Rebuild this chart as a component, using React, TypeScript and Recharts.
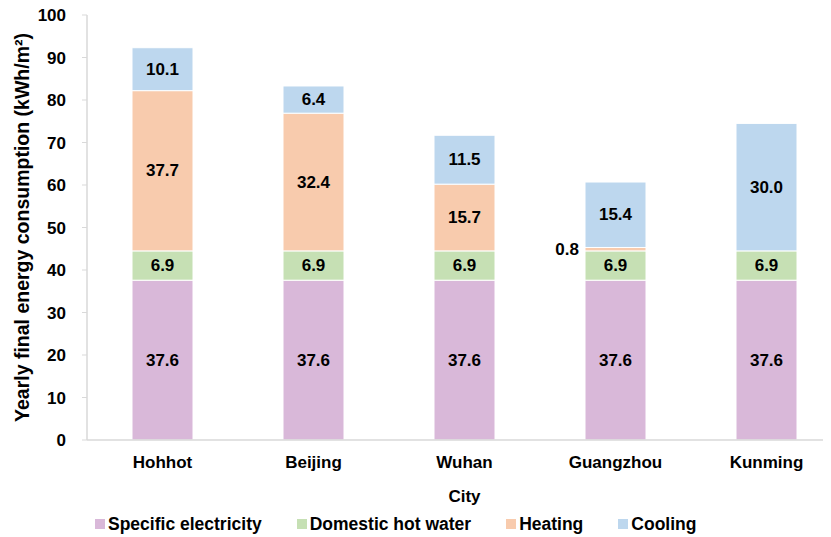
import { BarChart, Bar, XAxis, YAxis, Legend, LabelList } from 'recharts';

const cities = ['Hohhot', 'Beijing', 'Wuhan', 'Guangzhou', 'Kunming'];
const specificElectricity = [37.6, 37.6, 37.6, 37.6, 37.6];
const domesticHotWater = [6.9, 6.9, 6.9, 6.9, 6.9];
const heating = [37.7, 32.4, 15.7, 0.8, 0];
const cooling = [10.1, 6.4, 11.5, 15.4, 30.0];
const yTicks = [0, 10, 20, 30, 40, 50, 60, 70, 80, 90, 100];

const series = [
  { key: 'electricity', name: 'Specific electricity', color: '#D9B8D9' },
  { key: 'hotWater', name: 'Domestic hot water', color: '#C6E0B4' },
  { key: 'heating', name: 'Heating', color: '#F8CBAD' },
  { key: 'cooling', name: 'Cooling', color: '#BDD7EE' },
];

const data = cities.map((city, i) => ({
  city,
  electricity: specificElectricity[i],
  hotWater: domesticHotWater[i],
  heating: heating[i],
  cooling: cooling[i],
}));

const FONT = '"Liberation Sans", Arial, sans-serif';

// value labels: centred in the segment, or to the left when the segment is too thin
const renderValue = (props: any) => {
  const { x, y, width, height, value } = props;
  if (!value) return null;
  const small = height < 14;
  return (
    <text
      x={small ? x - 6 : x + width / 2}
      y={y + height / 2}
      textAnchor={small ? 'end' : 'middle'}
      dominantBaseline="central"
      fontFamily={FONT}
      fontWeight="bold"
      fontSize={17}
      fill="#000"
    >
      {Number(value).toFixed(1)}
    </text>
  );
};

const renderLegend = () => (
  <div
    style={{
      display: 'flex',
      gap: 35,
      fontFamily: FONT,
      fontWeight: 'bold',
      fontSize: 17.5,
      lineHeight: '20px',
      whiteSpace: 'nowrap',
    }}
  >
    {series.map((s) => (
      <div key={s.key} style={{ display: 'flex', alignItems: 'center', gap: 3 }}>
        <span style={{ width: 10, height: 10, background: s.color, display: 'inline-block' }} />
        <span>{s.name}</span>
      </div>
    ))}
  </div>
);

export default function App() {
  return (
    <div
      style={{
        marginLeft: -8,
        marginTop: -8,
        width: 831,
        height: 537,
        overflow: 'hidden',
        position: 'relative',
        background: '#fff',
      }}
    >
      <BarChart
        width={845}
        height={537}
        data={data}
        margin={{ top: 15, right: 3, left: 0, bottom: 0 }}
        barSize={61}
      >
        <XAxis
          dataKey="city"
          height={77}
          axisLine={{ stroke: '#D9D9D9', strokeWidth: 1.5 }}
          tickLine={false}
          tick={{ fontFamily: FONT, fontWeight: 'bold', fontSize: 17, fill: '#000' }}
          tickMargin={10}
          label={{
            value: 'City',
            position: 'insideBottom',
            offset: 15,
            style: { fontFamily: FONT, fontWeight: 'bold', fontSize: 17, fill: '#000' },
          }}
        />
        <YAxis
          width={87}
          domain={[0, 100]}
          ticks={yTicks}
          interval={0}
          axisLine={{ stroke: '#D9D9D9', strokeWidth: 1.5 }}
          tickLine={{ stroke: '#D9D9D9' }}
          tickSize={5}
          tick={{ fontFamily: FONT, fontWeight: 'bold', fontSize: 17, fill: '#000' }}
          tickMargin={16}
          label={{
            value: 'Yearly final energy consumption (kWh/m²)',
            angle: -90,
            position: 'insideLeft',
            offset: 22,
            style: { textAnchor: 'middle', fontFamily: FONT, fontWeight: 'bold', fontSize: 19.5, fill: '#000' },
          }}
        />
        <Legend
          content={renderLegend}
          wrapperStyle={{ position: 'absolute', left: 95, top: 514, width: 'auto' }}
        />
        {series.map((s) => (
          <Bar
            key={s.key}
            dataKey={s.key}
            name={s.name}
            stackId="a"
            fill={s.color}
            stroke="#fff"
            strokeWidth={1}
            isAnimationActive={false}
          >
            <LabelList dataKey={s.key} content={renderValue} />
          </Bar>
        ))}
      </BarChart>
    </div>
  );
}
